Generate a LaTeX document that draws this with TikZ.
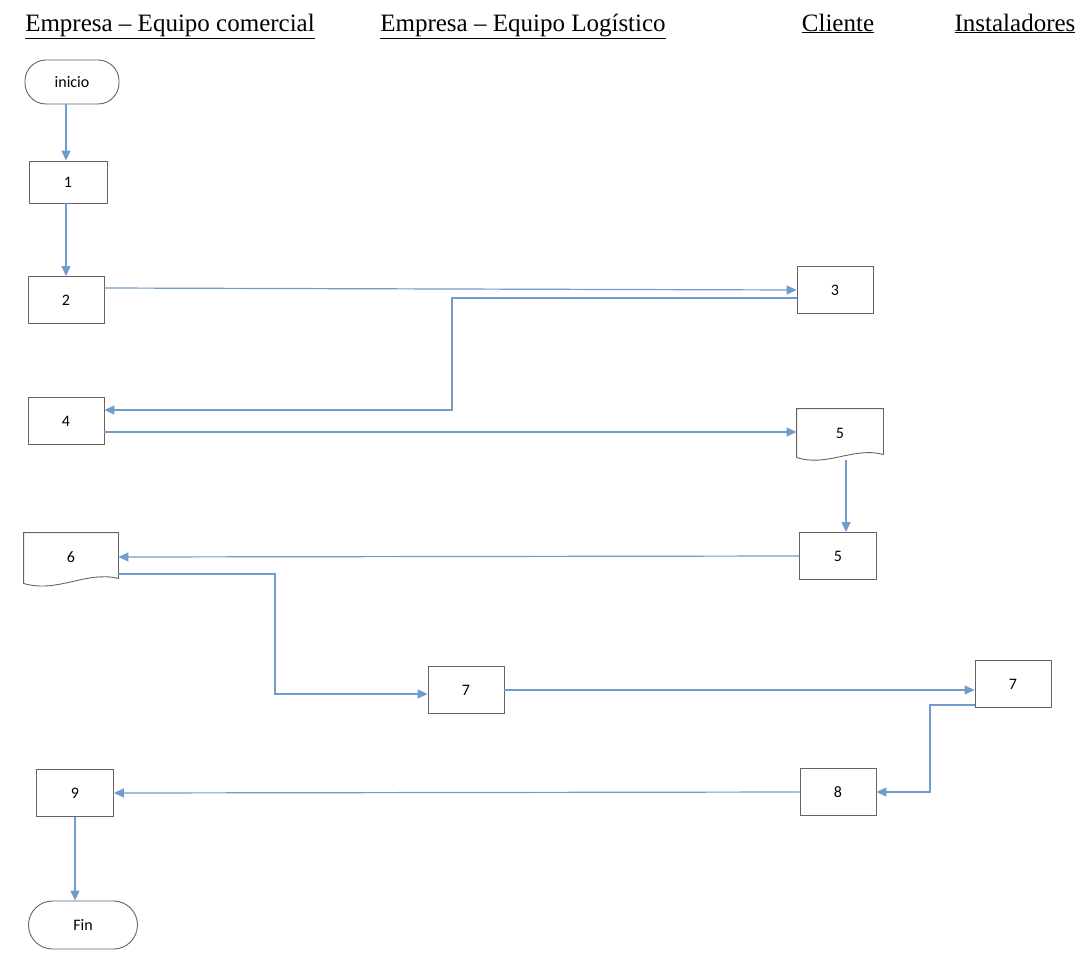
\documentclass[tikz,border=0pt]{standalone}
\usepackage{fontspec}
\setmainfont{Liberation Serif}
\newfontfamily\boxfont{Carlito}
\usetikzlibrary{arrows.meta,calc}
\definecolor{boxgray}{RGB}{100,100,100}
\definecolor{flowblue}{RGB}{112,156,204}

\begin{document}
\begin{tikzpicture}[x=1pt,y=-1pt,
    lane/.style={font=\fontsize{25}{28}\selectfont, anchor=base},
    stepbox/.style={draw=boxgray, line width=0.9pt, minimum width=76pt, minimum height=47pt,
        font=\boxfont\fontsize{16}{18}\selectfont},
    endbox/.style={stepbox, rounded corners=21pt},
    docbox/.style={stepbox, draw=none},
    docline/.style={draw=boxgray, line width=0.9pt},
    flow/.style={draw=flowblue, line width=1.2pt, -{Triangle[length=10pt,width=9pt]}}]
    \useasboundingbox (0,0) rectangle (1083,953);
    % lanes
    \node[lane] (hcom) at (170,31) {\underline{Empresa -- Equipo comercial}};
    \node[lane] (hlog) at (523,31) {\underline{Empresa -- Equipo Logístico}};
    \node[lane] (hcli) at (838,31) {\underline{Cliente}};
    \node[lane] (hins) at (1015,31) {\underline{Instaladores}};
    % steps
    \node[endbox, minimum width=94pt, minimum height=44pt] (ini) at (72,82) {inicio};
    \node[stepbox, minimum width=78pt, minimum height=42pt] (n1) at (68,182) {1};
    \node[stepbox] (n2) at (66,300) {2};
    \node[stepbox] (n3) at (835,290) {3};
    \node[stepbox] (n4) at (66,421) {4};
    \node[docbox, minimum width=86pt, minimum height=48pt] (d5a) at (840,433) {5};
    \node[stepbox, minimum width=77pt] (n5b) at (838,556) {5};
    \node[docbox, minimum width=94pt, minimum height=48pt] (d6) at (71,557) {6};
    \node[stepbox] (n7a) at (466,690) {7};
    \node[stepbox] (n7b) at (1013,684) {7};
    \node[stepbox] (n8) at (838,792) {8};
    \node[stepbox, minimum width=77pt] (n9) at (75,793) {9};
    \node[endbox, minimum width=109pt, minimum height=48pt, rounded corners=24pt] (fin) at (83,925) {Fin};
    % document shapes
    \draw[docline] (d5a.south west) -- (d5a.north west) -- (d5a.north east) -- ([yshift=3pt]d5a.south east)
        .. controls +(-30,-8) and +(30,10) .. (d5a.south west);
    \draw[docline] ([yshift=-2pt]d6.south west) -- (d6.north west) -- (d6.north east) -- ([yshift=3pt]d6.south east)
        .. controls +(-32,-8) and +(34,10) .. ([yshift=-2pt]d6.south west);
    % bends
    \coordinate (k1) at (452,410);
    \coordinate (k2) at (275,694);
    \coordinate (k3) at (930,792);
    % connectors
    \draw[flow] (ini.south -| n2.north) -- (n2.north |- n1.north);
    \draw[flow] (n1.south -| n2.north) -- (n2.north);
    \draw[flow] ([yshift=12pt]n2.east) -- (n3.west);
    \draw[flow] ([yshift=-8pt]n3.west) -| (k1) -- (k1 -| n4.east);
    \draw[flow] ([yshift=-11pt]n4.east) coordinate (a4) -- (a4 -| d5a.west);
    \draw[flow] ([xshift=6pt,yshift=-3pt]d5a.south) -- ([xshift=8pt]n5b.north);
    \draw[flow] (n5b.west) -- (d6.east);
    \draw[flow] ([yshift=-17pt]d6.east) -| (k2) -- (k2 -| n7a.west);
    \draw[flow] (n7a.east) -- (n7a.east -| n7b.west);
    \draw[flow] ([yshift=-21pt]n7b.west) -| (k3) -- (n8.east);
    \draw[flow] (n8.west) -- (n9.east);
    \draw[flow] (n9.south) -- (n9.south |- fin.north);
\end{tikzpicture}
\end{document}
